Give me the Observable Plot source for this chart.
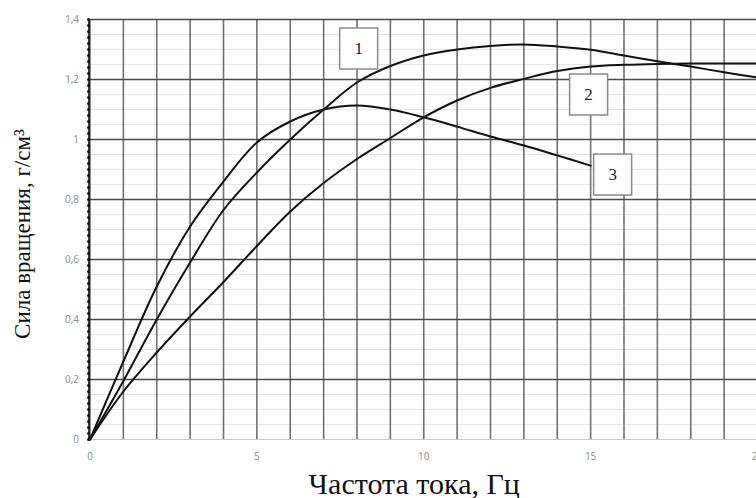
<!DOCTYPE html>
<html>
<head>
<meta charset="utf-8">
<script src="https://cdn.jsdelivr.net/npm/d3@7"></script>
<script src="https://cdn.jsdelivr.net/npm/@observablehq/plot@0.6"></script>
<style>
  body { margin: 0; background: #fff; }
  #chart { width: 756px; height: 498px; overflow: hidden; }
</style>
</head>
<body>
<div id="chart"></div>
<script>
// Current frequency, Hz
const freq = [0, 1, 2, 3, 4, 5, 6, 7, 8, 9, 10, 11, 12, 13, 14, 15, 16, 17, 18, 19, 20];
// Rotational force, g/cm³, for each of the three curves
const curve1 = [0, 0.195, 0.40, 0.59, 0.765, 0.89, 1.00, 1.10, 1.19, 1.245, 1.28, 1.30, 1.312, 1.317, 1.31, 1.299, 1.28, 1.261, 1.243, 1.224, 1.207];
const curve2 = [0, 0.16, 0.29, 0.41, 0.525, 0.645, 0.76, 0.855, 0.935, 1.005, 1.074, 1.13, 1.172, 1.202, 1.228, 1.243, 1.249, 1.252, 1.253, 1.253, 1.253];
const freq3 = [0, 1, 2, 3, 4, 5, 6, 7, 8, 9, 10, 11, 12, 13, 14, 15];
const curve3 = [0, 0.26, 0.51, 0.71, 0.86, 0.99, 1.06, 1.10, 1.113, 1.10, 1.074, 1.043, 1.01, 0.98, 0.947, 0.913];

// Curve callouts: name and anchor in data units
const calloutText = ["1", "2", "3"];
const calloutFreq = [8.05, 14.94, 15.66];
const calloutForce = [1.303, 1.15, 0.883];

// Axis ticks
const xTickLabels = [0, 5, 10, 15, 20];
const yTickLabels = [0, 0.2, 0.4, 0.6, 0.8, 1.0, 1.2, 1.4];
const xGrid = d3.range(0, 21, 1);
const yMinor = d3.range(0, 1.4001, 0.05).map(v => +v.toFixed(2));
const yDots = d3.range(0, 1.4001, 0.02).map(v => +v.toFixed(2));

const rows = [
  ...freq.map((f, i) => ({series: "1", f, v: curve1[i]})),
  ...freq.map((f, i) => ({series: "2", f, v: curve2[i]})),
  ...freq3.map((f, i) => ({series: "3", f, v: curve3[i]}))
];
const callouts = calloutText.map((t, i) => ({t, f: calloutFreq[i], v: calloutForce[i]}));

// Rectangular callout frame
const boxSymbol = { draw(ctx) { ctx.rect(-19, -20.5, 38, 41); } };

const serif = "'Liberation Serif', 'DejaVu Serif', serif";
const tickFont = "'Open Sans', 'Liberation Sans', sans-serif";

const chart = Plot.plot({
  width: 756,
  height: 498,
  marginLeft: 89.5,
  marginRight: 0,
  marginTop: 19,
  marginBottom: 59,
  x: { domain: [0, 20], range: [89.5, 757] },
  y: { domain: [0, 1.4], range: [439, 19] },
  style: { background: "#fff", overflow: "visible" },
  marks: [
    Plot.ruleY(yMinor, { stroke: "#e6e6e6", strokeWidth: 1 }),
    Plot.ruleX(xGrid, { y1: 1.4, y2: 0, dy: 1, stroke: "#707070", strokeWidth: 1.6 }),
    Plot.ruleY(yTickLabels.filter(v => v > 0), { stroke: "#4a4a4a", strokeWidth: 1.4 }),
    Plot.ruleY([0], { stroke: "#c8c8c8", strokeWidth: 1.2 }),
    Plot.ruleX([0], { stroke: "#111", strokeWidth: 1.6, dx: -1 }),
    Plot.dot(yDots, { x: () => 0, y: d => d, dx: -1.5, r: 1.5, fill: "#111", stroke: null }),
    Plot.axisX({ ticks: xTickLabels, tickSize: 0, tickPadding: 13, fontSize: 10,
      fontFamily: tickFont, fill: "#8a8a8a", label: null }),
    Plot.axisY({ ticks: yTickLabels, tickSize: 0, tickPadding: 11, fontSize: 10,
      fontFamily: tickFont, fill: "#8a8a8a", label: null,
      tickFormat: d => String(d).replace(".", ",") }),
    Plot.line(rows, { x: "f", y: "v", z: "series", curve: "catmull-rom",
      stroke: "#111", strokeWidth: 2 }),
    Plot.dot(callouts, { x: "f", y: "v", symbol: boxSymbol, fill: "#fff",
      stroke: "#8a8a8a", strokeWidth: 1.5 }),
    Plot.text(callouts, { x: "f", y: "v", text: "t", fontFamily: serif,
      fontSize: 17, fill: "#222" }),
    Plot.text(["Сила вращения, г/см³"], { frameAnchor: "left", textAnchor: "middle",
      lineAnchor: "middle", dx: -67, dy: 4.5, rotate: -90,
      fontFamily: serif, fontSize: 23, fill: "#111" }),
    Plot.text(["Частота тока, Гц"], { frameAnchor: "bottom", lineAnchor: "bottom",
      dx: -9, dy: 54, fontFamily: serif, fontSize: 30, fill: "#111" })
  ]
});

document.getElementById("chart").appendChild(chart);
</script>
</body>
</html>
